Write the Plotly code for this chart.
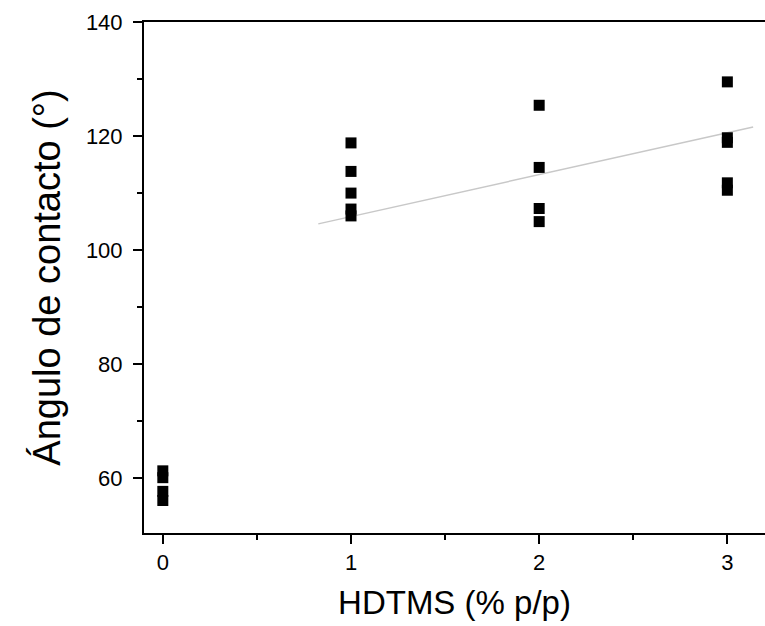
import plotly.graph_objects as go

# Data
hdtms = [0, 0, 0, 0,
         1, 1, 1, 1, 1,
         2, 2, 2, 2,
         3, 3, 3, 3, 3]
angle = [61.3, 60.1, 57.7, 56.1,
         118.8, 113.8, 110.0, 107.2, 106.0,
         125.4, 114.5, 107.3, 105.0,
         129.5, 119.7, 118.9, 111.8, 110.5]

fit_x = [0.826, 3.137]
fit_y = [104.6, 121.6]

x_ticks = [0, 1, 2, 3]
y_ticks = [60, 80, 100, 120, 140]

FONT = "Liberation Sans, Arial, sans-serif"

fig = go.Figure()
fig.add_trace(go.Scatter(x=fit_x, y=fit_y, mode="lines",
                         line=dict(color="#c8c8c8", width=1.5),
                         showlegend=False, hoverinfo="skip"))
fig.add_trace(go.Scatter(x=hdtms, y=angle, mode="markers",
                         marker=dict(symbol="square", size=11, color="black",
                                     line=dict(width=0)),
                         showlegend=False))

fig.update_layout(
    width=765, height=626,
    margin=dict(l=144, r=0, t=22, b=93),
    paper_bgcolor="white", plot_bgcolor="white",
    font=dict(family=FONT, color="black"),
    xaxis=dict(range=[-0.1, 3.2], tickvals=x_ticks, ticktext=[str(v) for v in x_ticks],
               showgrid=False, zeroline=False,
               showline=True, linecolor="black", linewidth=2, mirror=True,
               ticks="outside", ticklen=9, tickwidth=1.5, tickcolor="black",
               tickfont=dict(size=22, family=FONT), ticklabelstandoff=0,
               minor=dict(tickvals=[0.5, 1.5, 2.5], ticks="outside", ticklen=5,
                          tickwidth=1.5, tickcolor="black"),
               title=dict(text="HDTMS (% p/p)", font=dict(size=33, family=FONT), standoff=16)),
    yaxis=dict(range=[50.4, 140], tickvals=y_ticks, ticktext=[str(v) for v in y_ticks],
               showgrid=False, zeroline=False,
               showline=True, linecolor="black", linewidth=2, mirror=False,
               ticks="outside", ticklen=9, tickwidth=1.5, tickcolor="black",
               tickfont=dict(size=22, family=FONT), ticklabelstandoff=6,
               minor=dict(tickvals=[70, 90, 110, 130], ticks="outside", ticklen=5,
                          tickwidth=1.5, tickcolor="black"),
               title=dict(text="Ángulo de contacto (°)", font=dict(size=38, family=FONT), standoff=14)),
)

fig.write_html("out.html")
